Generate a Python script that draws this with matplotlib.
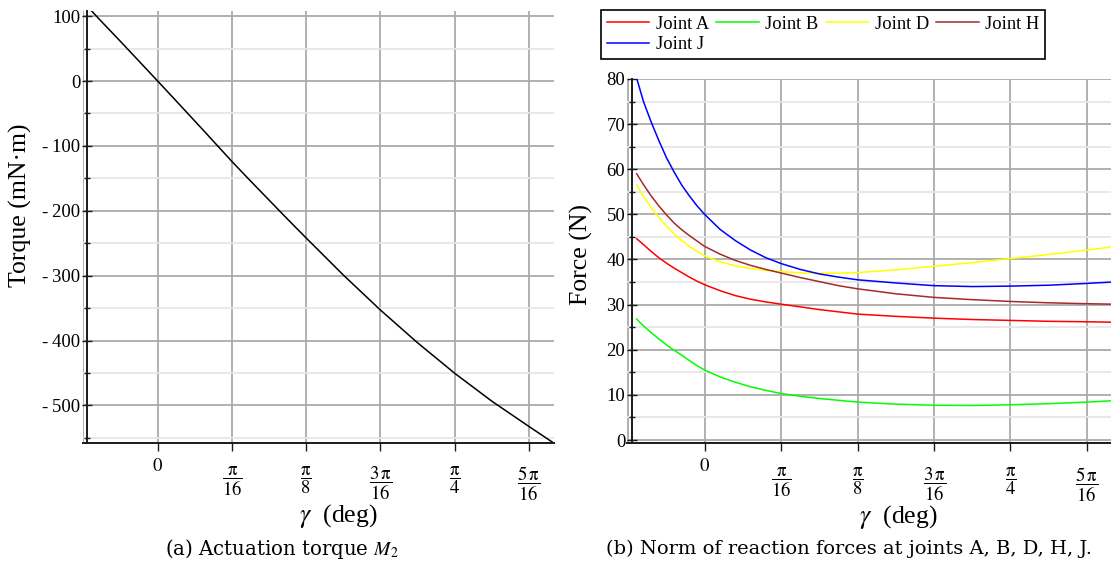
import numpy as np
import matplotlib
matplotlib.use('Agg')
import matplotlib.pyplot as plt
from matplotlib.ticker import MultipleLocator, FuncFormatter
from matplotlib.transforms import ScaledTranslation

plt.rcParams['mathtext.fontset'] = 'stix'

# gamma in multiples of pi/16 (from -10 deg to 60 deg)
gamma_pi16 = [-0.889, -0.8, -0.7, -0.6, -0.5, -0.4, -0.3, -0.2, -0.1, 0.0,
              0.2, 0.4, 0.6, 0.8, 1.0, 1.25, 1.5, 1.75, 2.0, 2.5,
              3.0, 3.5, 4.0, 4.5, 5.0, 5.333]

# actuation torque M2 (mN.m)
torque = [108, 97, 85, 73, 61, 48.8, 36.6, 24.4, 12.2, 0,
          -24.6, -49.3, -74, -99, -124, -154, -183.5, -213, -242, -299,
          -353, -403.5, -450.5, -493.5, -532.5, -558]

# reaction force norms (N)
joint_a = [44.6, 43.3, 41.8, 40.4, 39.2, 38.1, 37.1, 36.1, 35.2, 34.4,
           33.1, 32.0, 31.2, 30.6, 30.1, 29.5, 28.9, 28.4, 27.9, 27.4,
           27.0, 26.7, 26.5, 26.3, 26.2, 26.1]
joint_b = [26.8, 25.3, 23.8, 22.4, 21.1, 19.9, 18.8, 17.6, 16.5, 15.5,
           14.0, 12.8, 11.8, 11.0, 10.3, 9.7, 9.2, 8.8, 8.4, 7.95,
           7.7, 7.65, 7.8, 8.05, 8.4, 8.7]
joint_d = [56.5, 54.0, 51.5, 49.3, 47.4, 45.7, 44.2, 42.9, 41.8, 40.8,
           39.5, 38.6, 38.0, 37.6, 37.3, 37.05, 36.95, 36.95, 37.1, 37.7,
           38.5, 39.3, 40.2, 41.1, 42.1, 42.8]
joint_h = [59.0, 56.6, 54.1, 51.9, 49.9, 48.1, 46.6, 45.3, 44.1, 42.9,
           41.2, 39.8, 38.7, 37.8, 37.0, 36.0, 35.1, 34.2, 33.5, 32.4,
           31.6, 31.1, 30.7, 30.4, 30.2, 30.1]
joint_j = [80.2, 75.0, 70.5, 66.4, 62.6, 59.4, 56.5, 54.1, 51.9, 50.0,
           46.7, 44.2, 42.1, 40.4, 39.1, 37.8, 36.8, 36.1, 35.5, 34.8,
           34.2, 34.0, 34.1, 34.3, 34.7, 35.0]

joint_names = ['Joint A', 'Joint B', 'Joint D', 'Joint H', 'Joint J']
joint_colors = ['#ff0000', '#00ff00', '#ffff00', '#a52a2a', '#0000ff']

x_tick_pi16 = [0, 1, 2, 3, 4, 5]
x_tick_labels = ['$0$', r'$\dfrac{\mathrm{π}}{16}$', r'$\dfrac{\mathrm{π}}{8}$',
                 r'$\dfrac{3\,\mathrm{π}}{16}$', r'$\dfrac{\mathrm{π}}{4}$',
                 r'$\dfrac{5\,\mathrm{π}}{16}$']

SERIF = ['Liberation Serif', 'DejaVu Serif']
GRID_MAJ = '#aaaaaa'
GRID_MIN = '#e6e6e6'
AXCOL = '#1a1a1a'

x = np.array(gamma_pi16) * np.pi / 16


def neg_fmt(v, pos):
    if v < 0:
        return '-\u2009%d' % (-v)
    return '%d' % v


def style_axes(fig, ax, ylo, yhi, ymaj, ymin):
    ax.set_xlim(-np.pi / 16 - 0.002, np.pi / 3)
    ax.set_ylim(ylo, yhi)
    ax.set_xticks(np.array(x_tick_pi16) * np.pi / 16)
    ax.set_xticklabels(x_tick_labels, fontsize=13.5)
    ax.yaxis.set_major_locator(MultipleLocator(ymaj))
    ax.yaxis.set_minor_locator(MultipleLocator(ymin))
    ax.yaxis.set_major_formatter(FuncFormatter(neg_fmt))
    ax.set_axisbelow(True)
    ax.grid(which='major', color=GRID_MAJ, lw=1.3)
    ax.grid(which='minor', axis='y', color=GRID_MIN, lw=1.3)
    ax.axvline(-np.pi / 16, color=GRID_MAJ, lw=1.3, zorder=0.5)
    for s in ['top', 'right']:
        ax.spines[s].set_visible(False)
    ax.spines['left'].set_position(('data', -0.948 * np.pi / 16))
    for s in ['left', 'bottom']:
        ax.spines[s].set_color(AXCOL)
        ax.spines[s].set_linewidth(1.4)
    ax.tick_params(axis='y', which='major', direction='inout', length=7,
                   width=1, color=AXCOL, pad=1.5, labelsize=13.5)
    ax.tick_params(axis='y', which='minor', direction='inout', length=4,
                   width=1, color=AXCOL)
    ax.tick_params(axis='x', which='major', direction='out', length=6,
                   width=1, color=AXCOL, pad=3)
    for lab in ax.get_yticklabels():
        lab.set_family(SERIF)
    # fractions sit lower than the "0" label
    for t in ax.xaxis.get_major_ticks()[1:]:
        t.label1.set_transform(t.label1.get_transform() +
                               ScaledTranslation(0, -0.09, fig.dpi_scale_trans))


fig = plt.figure(figsize=(11.11, 5.64), dpi=100)
ax1 = fig.add_axes([0.0744, 0.2145, 0.424, 0.766])
ax2 = fig.add_axes([0.5647, 0.214, 0.4366, 0.646])

# (a) torque
ax1.plot(x, torque, color='black', lw=1.1)
style_axes(fig, ax1, -558, 108, 100, 50)
ax1.set_ylabel('Torque (mN·m)', family=SERIF, fontsize=18.5)
ax1.set_xlabel(r'$\gamma$  (deg)', family=SERIF, fontsize=18.5)
ax1.yaxis.set_label_coords(-0.108, 0.55)
ax1.xaxis.set_label_coords(0.542, -0.136)

# (b) reaction forces
series = [joint_a, joint_b, joint_d, joint_h, joint_j]
lines = []
for vals, name, col in zip(series, joint_names, joint_colors):
    ln, = ax2.plot(x, vals, color=col, lw=1.1, label=name)
    lines.append(ln)
style_axes(fig, ax2, -0.73, 80, 10, 5)
ax2.set_ylabel('Force (N)', family=SERIF, fontsize=18.5)
ax2.set_xlabel(r'$\gamma$  (deg)', family=SERIF, fontsize=18.5)
ax2.yaxis.set_label_coords(-0.071, 0.517)
ax2.xaxis.set_label_coords(0.558, -0.164)

# row-major order A B D H / J with 4 columns
order = [0, 4, 1, 2, 3]
leg = fig.legend([lines[i] for i in order], [joint_names[i] for i in order],
                 ncol=4, loc='upper left', bbox_to_anchor=(0.541, 0.982),
                 bbox_transform=fig.transFigure, frameon=True, fancybox=False,
                 framealpha=1, edgecolor='black', handlelength=2.3,
                 handletextpad=0.35, columnspacing=0.4, borderpad=0.3,
                 labelspacing=0.2, borderaxespad=0,
                 prop={'family': SERIF, 'size': 13.3})
leg.get_frame().set_linewidth(1.2)

fig.text(282 / 1111, 1 - 549 / 564, '(a) Actuation torque $M_2$',
         ha='center', va='center', family='DejaVu Serif', fontsize=14.2)
fig.text(849 / 1111, 1 - 549 / 564,
         '(b) Norm of reaction forces at joints A, B, D, H, J.',
         ha='center', va='center', family='DejaVu Serif', fontsize=14)

fig.savefig('out.png', dpi=100)
